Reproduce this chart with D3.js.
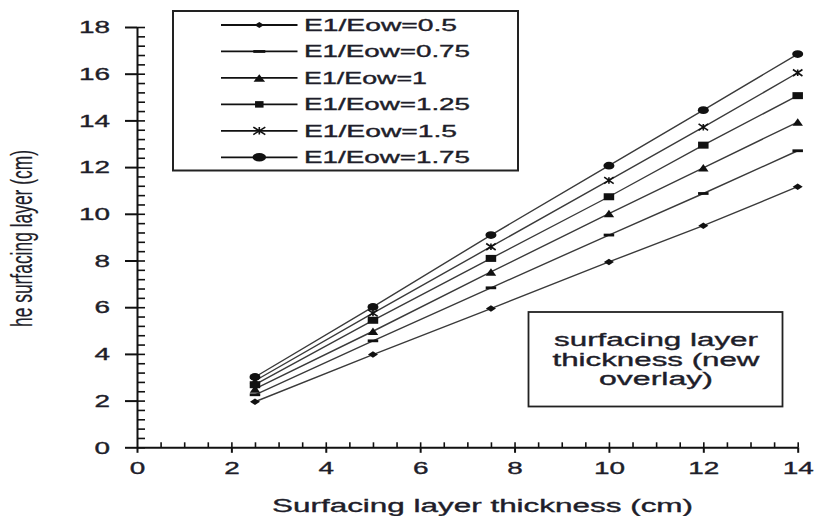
<!DOCTYPE html>
<html>
<head>
<meta charset="utf-8">
<script src="https://cdn.jsdelivr.net/npm/d3@7/dist/d3.min.js"></script>
<style>
  html, body { margin: 0; padding: 0; background: #fff; }
  svg { display: block; }
  text { font-family: "Liberation Sans", Arial, sans-serif; fill: #1e1e2a; stroke: #1e1e2a; stroke-width: 0.35px; }
</style>
</head>
<body>
<svg id="chart" width="817" height="516"></svg>
<script>
// Surfacing layer thickness for several modulus ratios E1/Eow
const thickness = [2.5, 5, 7.5, 10, 12, 14];
const ratioLabels = ["E1/Eow=0.5", "E1/Eow=0.75", "E1/Eow=1", "E1/Eow=1.25", "E1/Eow=1.5", "E1/Eow=1.75"];
const ratio050 = [1.95, 3.97, 5.94, 7.94, 9.49, 11.16];
const ratio075 = [2.25, 4.56, 6.83, 9.09, 10.87, 12.70];
const ratio100 = [2.50, 4.97, 7.51, 10.01, 11.97, 13.93];
const ratio125 = [2.68, 5.44, 8.09, 10.73, 12.94, 15.06];
const ratio150 = [2.85, 5.75, 8.59, 11.43, 13.71, 16.04];
const ratio175 = [3.01, 6.01, 9.09, 12.06, 14.44, 16.84];
const markerTypes = ["diamond", "dash", "triangle", "square", "star", "circle"];
const yTicks = [0, 2, 4, 6, 8, 10, 12, 14, 16, 18];
const xTicks = [0, 2, 4, 6, 8, 10, 12, 14];
const noteLines = ["surfacing layer", "thickness (new", "overlay)"];
const xTitle = "Surfacing layer  thickness (cm)";
const yTitle = "he surfacing layer (cm)";

const seriesValues = [ratio050, ratio075, ratio100, ratio125, ratio150, ratio175];
const series = ratioLabels.map((label, i) => ({
  label,
  marker: markerTypes[i],
  points: thickness.map((t, j) => ({ x: t, y: seriesValues[i][j] }))
}));

const svg = d3.select("#chart");
const x = d3.scaleLinear().domain([0, 14]).range([137, 797.7]);
const y = d3.scaleLinear().domain([0, 18]).range([447.3, 27]);

// marker drawing (w, h = bounding size)
function drawMarker(g, type, cx, cy, w, h) {
  const fill = "#111";
  if (type === "diamond") {
    g.append("path").attr("d", `M${cx - w / 2},${cy}L${cx},${cy - h / 2}L${cx + w / 2},${cy}L${cx},${cy + h / 2}Z`).attr("fill", fill);
  } else if (type === "dash") {
    g.append("rect").attr("x", cx - w / 2).attr("y", cy - h / 2).attr("width", w).attr("height", h).attr("fill", fill);
  } else if (type === "triangle") {
    g.append("path").attr("d", `M${cx - w / 2},${cy + h / 2}L${cx},${cy - h / 2}L${cx + w / 2},${cy + h / 2}Z`).attr("fill", fill);
  } else if (type === "square") {
    g.append("rect").attr("x", cx - w / 2).attr("y", cy - h / 2).attr("width", w).attr("height", h).attr("fill", fill);
  } else if (type === "star") {
    g.append("path")
      .attr("d", `M${cx - w / 2},${cy - h / 2}L${cx + w / 2},${cy + h / 2}M${cx - w / 2},${cy + h / 2}L${cx + w / 2},${cy - h / 2}M${cx},${cy - h / 2}L${cx},${cy + h / 2}`)
      .attr("stroke", fill).attr("stroke-width", 1.6).attr("fill", "none");
  } else if (type === "circle") {
    g.append("ellipse").attr("cx", cx).attr("cy", cy).attr("rx", w / 2).attr("ry", h / 2).attr("fill", fill);
  }
}

const plotSize = {
  diamond: [10, 6.5], dash: [10.5, 2.8], triangle: [10.5, 7.5], square: [10.5, 7], star: [9.5, 6.5], circle: [11, 7.8]
};
const legendSize = {
  diamond: [9.5, 6], dash: [12, 2.8], triangle: [11.5, 7.5], square: [8.5, 6.5], star: [12, 7.5], circle: [13.5, 8.5]
};

// axes
const yAxis = d3.axisLeft(y).tickValues(yTicks).tickSizeInner(12).tickSizeOuter(0).tickPadding(15);
const gy = svg.append("g").attr("transform", "translate(137,0)").call(yAxis);
gy.select(".domain").attr("stroke", "#111").attr("stroke-width", 2);
gy.selectAll(".tick line").attr("stroke", "#111").attr("stroke-width", 2);
gy.selectAll(".tick text")
  .attr("font-size", 16).attr("x", -27).attr("dy", "0.36em")
  .attr("textLength", d => String(d).length * 15.5)
  .attr("lengthAdjust", "spacingAndGlyphs");
const yMinor = d3.axisRight(y).tickValues(d3.range(0, 18.01, 0.4)).tickSize(8).tickSizeOuter(0).tickFormat("");
const gym = svg.append("g").attr("transform", "translate(137,0)").call(yMinor);
gym.select(".domain").remove();
gym.selectAll(".tick line").attr("stroke", "#111").attr("stroke-width", 1.6);

const xAxis = d3.axisBottom(x).tickValues(xTicks).tickSizeInner(5.5).tickSizeOuter(0);
const gx = svg.append("g").attr("transform", "translate(0,447.3)").call(xAxis);
gx.select(".domain").attr("stroke", "#111").attr("stroke-width", 2);
gx.selectAll(".tick line").attr("stroke", "#111").attr("stroke-width", 2);
gx.selectAll(".tick text")
  .attr("font-size", 16).attr("y", 20.5).attr("dy", "0.36em")
  .attr("textLength", d => String(d).length * 15.5)
  .attr("lengthAdjust", "spacingAndGlyphs");
const xMinor = d3.axisTop(x).tickValues(d3.range(0.5, 14.01, 0.5)).tickSize(5).tickSizeOuter(0).tickFormat("");
const gxm = svg.append("g").attr("transform", "translate(0,447.3)").call(xMinor);
gxm.select(".domain").remove();
gxm.selectAll(".tick line").attr("stroke", "#111").attr("stroke-width", 1.6);

// axis titles
svg.append("text")
  .attr("x", 482.5).attr("y", 511.5).attr("text-anchor", "middle")
  .attr("font-size", 18).attr("textLength", 421).attr("lengthAdjust", "spacingAndGlyphs")
  .text(xTitle);
svg.append("text")
  .attr("transform", "translate(31.5,238.5) rotate(-90)")
  .attr("text-anchor", "middle")
  .attr("font-size", 30).attr("textLength", 177).attr("lengthAdjust", "spacingAndGlyphs")
  .style("stroke-width", "0.2px")
  .text(yTitle);

// series lines and markers
const line = d3.line().x(d => x(d.x)).y(d => y(d.y));
const gs = svg.append("g");
series.forEach(s => {
  gs.append("path").attr("d", line(s.points))
    .attr("fill", "none").attr("stroke", "#3a3a3a").attr("stroke-width", 1.4);
});
series.forEach(s => {
  const [w, h] = plotSize[s.marker];
  s.points.forEach(p => drawMarker(gs, s.marker, x(p.x), y(p.y), w, h));
});

// legend
const gl = svg.append("g");
gl.append("rect").attr("x", 173).attr("y", 11).attr("width", 345).attr("height", 159.5)
  .attr("fill", "#fff").attr("stroke", "#222").attr("stroke-width", 2);
const legendRowY = d3.scaleLinear().domain([0, 5]).range([25, 157.3]);
const legendWidths = [153, 166, 123, 166, 153, 166];
series.forEach((s, i) => {
  const cy = legendRowY(i);
  gl.append("line").attr("x1", 221).attr("x2", 297.5).attr("y1", cy).attr("y2", cy)
    .attr("stroke", "#111").attr("stroke-width", 1.8);
  const [w, h] = legendSize[s.marker];
  drawMarker(gl, s.marker, 259.3, cy, w, h);
  gl.append("text").attr("x", 304).attr("y", cy).attr("dy", "0.36em")
    .attr("font-size", 16).attr("textLength", legendWidths[i]).attr("lengthAdjust", "spacingAndGlyphs")
    .text(s.label);
});

// note box
const gn = svg.append("g");
gn.append("rect").attr("x", 528.5).attr("y", 312).attr("width", 254).attr("height", 94.5)
  .attr("fill", "#fff").attr("stroke", "#222").attr("stroke-width", 1.8);
const noteWidths = [204, 207, 114];
noteLines.forEach((t, i) => {
  gn.append("text").attr("x", 656).attr("y", 346 + i * 19.5).attr("text-anchor", "middle")
    .attr("font-size", 18).attr("textLength", noteWidths[i]).attr("lengthAdjust", "spacingAndGlyphs")
    .text(t);
});
</script>
</body>
</html>
